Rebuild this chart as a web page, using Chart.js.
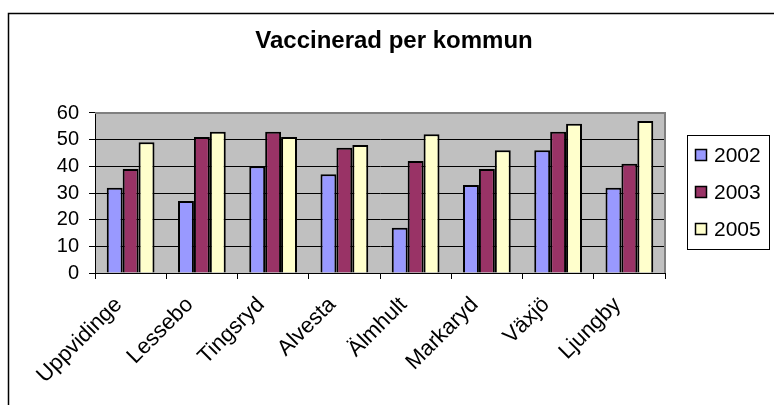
<!DOCTYPE html>
<html lang="sv">
<head>
    <meta charset="UTF-8">
    <title>Vaccinerad per kommun</title>
    <style>
        body { margin: 0; background: #fff; }
        #chart { display: block; }
    </style>
</head>
<body>
    <canvas id="chart" width="774" height="405"></canvas>

    <script src="https://cdn.jsdelivr.net/npm/chart.js"></script>
    <script>
        const categories = ['Uppvidinge', 'Lessebo', 'Tingsryd', 'Alvesta', 'Älmhult', 'Markaryd', 'Växjö', 'Ljungby'];
        const seriesNames = ['2002', '2003', '2005'];
        const values2002 = [32, 27, 40, 37, 17, 33, 46, 32];
        const values2003 = [39, 51, 53, 47, 42, 39, 53, 41];
        const values2005 = [49, 53, 51, 48, 52, 46, 56, 57];
        const yTicks = [0, 10, 20, 30, 40, 50, 60];

        const FONT = '"Liberation Sans", Arial, sans-serif';
        const colors = ['#9999FF', '#993366', '#FFFFCC'];

        // grey plot area + outer frame, drawn before the scales
        const backdrop = {
            id: 'backdrop',
            beforeDraw(chart) {
                const { ctx, chartArea: a } = chart;
                ctx.save();
                ctx.fillStyle = '#C0C0C0';
                ctx.fillRect(a.left, a.top, a.right - a.left, a.bottom - a.top);
                ctx.strokeStyle = '#000';
                ctx.lineWidth = 1.5;
                ctx.beginPath();
                ctx.moveTo(8.5, 405);
                ctx.lineTo(8.5, 13.5);
                ctx.lineTo(774, 13.5);
                ctx.stroke();
                ctx.restore();
            },
            beforeDatasetsDraw(chart) {
                const { ctx, chartArea: a } = chart;
                ctx.save();
                ctx.strokeStyle = '#808080';
                ctx.lineWidth = 2;
                ctx.beginPath();
                ctx.moveTo(a.left, a.top);
                ctx.lineTo(a.right, a.top);
                ctx.lineTo(a.right, a.bottom);
                ctx.stroke();
                ctx.restore();
            }
        };

        // boxed legend on the right, like the Excel original
        const boxLegend = {
            id: 'boxLegend',
            afterDraw(chart) {
                const ctx = chart.ctx;
                ctx.save();
                ctx.fillStyle = '#fff';
                ctx.fillRect(687, 135, 82, 114);
                ctx.strokeStyle = '#000';
                ctx.lineWidth = 1;
                ctx.strokeRect(687.5, 135.5, 82, 114);
                ctx.font = '21px ' + FONT;
                ctx.textBaseline = 'middle';
                chart.data.datasets.forEach((ds, i) => {
                    const cy = 155 + i * 37;
                    ctx.fillStyle = ds.backgroundColor;
                    ctx.fillRect(695, cy - 6, 12, 12);
                    ctx.lineWidth = 1.5;
                    ctx.strokeRect(695.5, cy - 5.5, 11, 11);
                    ctx.fillStyle = '#000';
                    ctx.fillText(ds.label, 714, cy + 1);
                });
                ctx.restore();
            }
        };

        const series = [values2002, values2003, values2005];

        new Chart(document.getElementById('chart'), {
            type: 'bar',
            data: {
                labels: categories,
                datasets: seriesNames.map((name, i) => ({
                    label: name,
                    data: series[i],
                    backgroundColor: colors[i],
                    borderColor: '#000',
                    borderWidth: 2,
                    categoryPercentage: 0.67,
                    barPercentage: 1.0
                }))
            },
            options: {
                responsive: false,
                animation: false,
                layout: { padding: { left: 14, right: 0, top: 0, bottom: 0 } },
                plugins: {
                    legend: { display: false },
                    tooltip: { enabled: false },
                    title: {
                        display: true,
                        text: 'Vaccinerad per kommun',
                        color: '#000',
                        font: { family: FONT, size: 24, weight: 'bold' },
                        padding: { top: 27.4, bottom: 56.8 }
                    }
                },
                scales: {
                    x: {
                        grid: {
                            display: true,
                            offset: true,
                            drawOnChartArea: false,
                            drawTicks: true,
                            tickLength: 6,
                            color: '#000'
                        },
                        border: { display: true, color: '#000', width: 1 },
                        ticks: {
                            color: '#000',
                            font: { family: FONT, size: 22 },
                            minRotation: 45,
                            maxRotation: 45,
                            padding: 13,
                            labelOffset: -12,
                            autoSkip: false
                        },
                        afterFit(scale) { scale.height = 132; }
                    },
                    y: {
                        min: 0,
                        max: 60,
                        afterBuildTicks(scale) {
                            scale.ticks = yTicks.map(v => ({ value: v }));
                        },
                        grid: {
                            color: c => (c.tick && c.tick.value === 60) ? '#808080' : '#000',
                            tickColor: '#000',
                            tickLength: 6,
                            lineWidth: 1
                        },
                        border: { display: true, color: '#000', width: 1 },
                        ticks: {
                            color: '#000',
                            font: { family: FONT, size: 20 },
                            padding: 10,
                            autoSkip: false
                        },
                        afterFit(scale) { scale.width = 81; }
                    },
                    yR: {
                        position: 'right',
                        display: true,
                        grid: { display: false },
                        border: { display: false },
                        ticks: { display: false },
                        afterFit(scale) { scale.width = 109; }
                    }
                }
            },
            plugins: [backdrop, boxLegend]
        });
    </script>
</body>
</html>
